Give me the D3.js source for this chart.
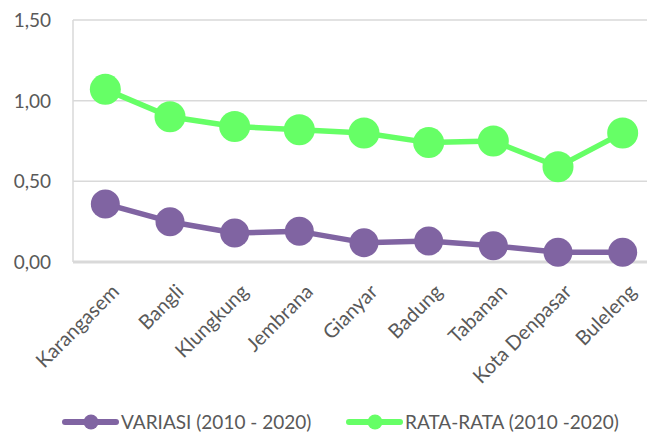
<!DOCTYPE html>
<html>
<head>
<meta charset="utf-8">
<script src="https://cdn.jsdelivr.net/npm/d3@7"></script>
<style>
  html, body { margin: 0; padding: 0; background: #fff; }
  svg { display: block; }
</style>
</head>
<body>
<svg id="chart" width="647" height="434"></svg>
<script>
// Kabupaten/kota in Bali, in chart order
const categories = ["Karangasem", "Bangli", "Klungkung", "Jembrana", "Gianyar", "Badung", "Tabanan", "Kota Denpasar", "Buleleng"];
// Variation 2010 - 2020
const variasi = [0.36, 0.25, 0.18, 0.19, 0.12, 0.13, 0.10, 0.06, 0.06];
// Average 2010 - 2020
const rataRata = [1.07, 0.90, 0.84, 0.82, 0.80, 0.74, 0.75, 0.59, 0.80];
const yTicks = [0, 0.5, 1.0, 1.5];
const seriesNames = ["VARIASI (2010 - 2020)", "RATA-RATA (2010 -2020)"];

const colors = ["#8064A2", "#66FF66"];
const markerR = [14.5, 15.5];
const font = "Lato, 'Open Sans', sans-serif";

const svg = d3.select("#chart");
const plot = { left: 73, right: 655, top: 20, bottom: 262 };

const x = d3.scalePoint().domain(categories).range([plot.left, plot.right]).padding(0.5);
const y = d3.scaleLinear().domain([0, 1.5]).range([plot.bottom, plot.top]);
const fmt = v => d3.format(".2f")(v).replace(".", ",");

// horizontal gridlines
svg.append("g").selectAll("line")
  .data(yTicks.filter(t => t > 0))
  .join("line")
  .attr("x1", plot.left).attr("x2", plot.right)
  .attr("y1", d => y(d)).attr("y2", d => y(d))
  .attr("stroke", "#D9D9D9").attr("stroke-width", 1.5);

// left axis line
svg.append("line")
  .attr("x1", plot.left).attr("x2", plot.left)
  .attr("y1", plot.top).attr("y2", plot.bottom)
  .attr("stroke", "#D9D9D9").attr("stroke-width", 1.5);

// baseline
svg.append("line")
  .attr("x1", plot.left).attr("x2", plot.right)
  .attr("y1", y(0)).attr("y2", y(0))
  .attr("stroke", "#D9D9D9").attr("stroke-width", 3);

// y tick labels
svg.append("g").selectAll("text")
  .data(yTicks)
  .join("text")
  .attr("x", 51).attr("y", d => y(d))
  .attr("dy", "0.36em")
  .attr("text-anchor", "end")
  .attr("font-family", font).attr("font-size", 19)
  .attr("fill", "#595959")
  .text(fmt);

// x category labels, rotated
svg.append("g").selectAll("text")
  .data(categories)
  .join("text")
  .attr("transform", d => `translate(${x(d) + 10},${288}) rotate(-45)`)
  .attr("text-anchor", "end")
  .attr("dy", "0.35em")
  .attr("font-family", font).attr("font-size", 20)
  .attr("fill", "#595959")
  .text(d => d);

const line = d3.line().x((d, i) => x(categories[i])).y(d => y(d));

[variasi, rataRata].forEach((vals, s) => {
  const g = svg.append("g");
  g.append("path")
    .attr("d", line(vals))
    .attr("fill", "none")
    .attr("stroke", colors[s]).attr("stroke-width", 5.5)
    .attr("stroke-linejoin", "round");
  g.selectAll("circle")
    .data(vals)
    .join("circle")
    .attr("cx", (d, i) => x(categories[i]))
    .attr("cy", d => y(d))
    .attr("r", markerR[s])
    .attr("fill", colors[s]);
});

// legend
const legendX = [63, 347];
seriesNames.forEach((name, s) => {
  const g = svg.append("g").attr("transform", `translate(${legendX[s]},422)`);
  g.append("line")
    .attr("x1", 2).attr("x2", 53)
    .attr("stroke", colors[s]).attr("stroke-width", 6)
    .attr("stroke-linecap", "round");
  g.append("circle").attr("cx", 28).attr("r", 7.5).attr("fill", colors[s]);
  g.append("text")
    .attr("x", 58).attr("dy", "0.36em")
    .attr("font-family", font).attr("font-size", 19)
    .attr("fill", "#595959")
    .text(name);
});
</script>
</body>
</html>
